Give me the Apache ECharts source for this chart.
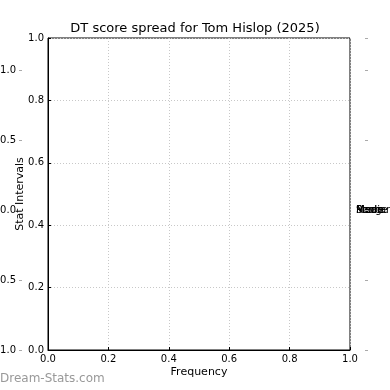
<!DOCTYPE html>
<html><head><meta charset="utf-8">
<script src="https://cdn.jsdelivr.net/npm/echarts@6/dist/echarts.min.js"></script>
<style>html,body{margin:0;padding:0;background:#fff}#c{width:390px;height:390px}</style>
</head><body><div id="c"></div>
<script>
const titleText = 'DT score spread for Tom Hislop (2025)';
const xTicks = [0, 0.2, 0.4, 0.6, 0.8, 1.0];
const yTicks = [0, 0.2, 0.4, 0.6, 0.8, 1.0];
const outerTicks = [-1.0, -0.5, 0.0, 0.5, 1.0];
const statLabels = ['Median', 'Mean', 'Range', 'Mode', 'Score'];
const watermark = 'Dream-Stats.com';

const font = 'DejaVu Sans';
const chart = echarts.init(document.getElementById('c'), null, {renderer: 'canvas'});
const outerMax = 1.0 + 32 / 140;
const fmt1 = v => (v < 0 ? '\u2212' : '') + Math.abs(v).toFixed(1);
const isOuter = v => outerTicks.some(t => Math.abs(t - v) < 1e-6);
const grid = {color: '#c8c8c8', type: [1, 2], width: 1};

const option = {
  animation: false,
  textStyle: {fontFamily: font},
  title: {text: titleText, left: 'center', top: 17,
    textStyle: {fontFamily: font, fontSize: 13, fontWeight: 'normal', color: '#000'}},
  grid: {left: 48, right: 40, top: 38, bottom: 40, show: true, borderColor: '#000', borderWidth: 1,
    containLabel: false, outerBoundsMode: 'none'},
  xAxis: [{
    type: 'value', min: 0, max: 1, interval: 0.2,
    name: 'Frequency', nameLocation: 'middle', nameGap: 17, nameMoveOverlap: false,
    nameTextStyle: {fontFamily: font, fontSize: 11, color: '#000'},
    axisLine: {show: true, lineStyle: {color: '#000'}},
    axisTick: {show: true, inside: true, length: 3, lineStyle: {color: '#000'}},
    axisLabel: {fontFamily: font, fontSize: 10, color: '#000', margin: 4, formatter: v => v.toFixed(1)},
    splitLine: {show: true, lineStyle: grid}
  }],
  yAxis: [{
    type: 'value', min: 0, max: 1, interval: 0.2, position: 'left',
    name: 'Stat Intervals', nameLocation: 'middle', nameGap: 22, nameMoveOverlap: false,
    nameTextStyle: {fontFamily: font, fontSize: 11, color: '#000'},
    axisLine: {show: true, lineStyle: {color: '#000'}},
    axisTick: {show: true, inside: true, length: 3, lineStyle: {color: '#000'}},
    axisLabel: {fontFamily: font, fontSize: 10, color: '#000', margin: 4, formatter: v => v.toFixed(1)},
    splitLine: {show: true, lineStyle: grid}
  }, {
    type: 'value', min: -1.0, max: outerMax, interval: 0.5, position: 'left', offset: 26,
    axisLine: {show: false},
    axisTick: {show: true, length: 3, lineStyle: {color: '#aaa'}},
    axisLabel: {fontFamily: font, fontSize: 10, color: '#000', margin: 6, showMaxLabel: false,
      formatter: v => isOuter(v) ? fmt1(v) : ''},
    splitLine: {show: false}
  }, {
    type: 'value', min: -1.0, max: outerMax, interval: 0.5, position: 'right', offset: 18,
    axisLine: {show: false},
    axisTick: {show: true, inside: true, length: 3, lineStyle: {color: '#aaa'}},
    axisLabel: {show: false},
    splitLine: {show: false}
  }],
  series: [{
    type: 'scatter', xAxisIndex: 0, yAxisIndex: 2, symbolSize: 0, silent: true,
    data: []
  }],
  graphic: statLabels.map((s, i) => ({
    type: 'text', left: 356, top: 205 + (i % 2) * 0.5,
    style: {text: s, fontFamily: font, fontSize: 10, fill: '#000'}
  })).concat([{
    type: 'text', left: 0, top: 373,
    style: {text: watermark, fontFamily: font, fontSize: 12, fill: '#999'}
  }])
};
chart.setOption(option);
</script>
</body></html>
